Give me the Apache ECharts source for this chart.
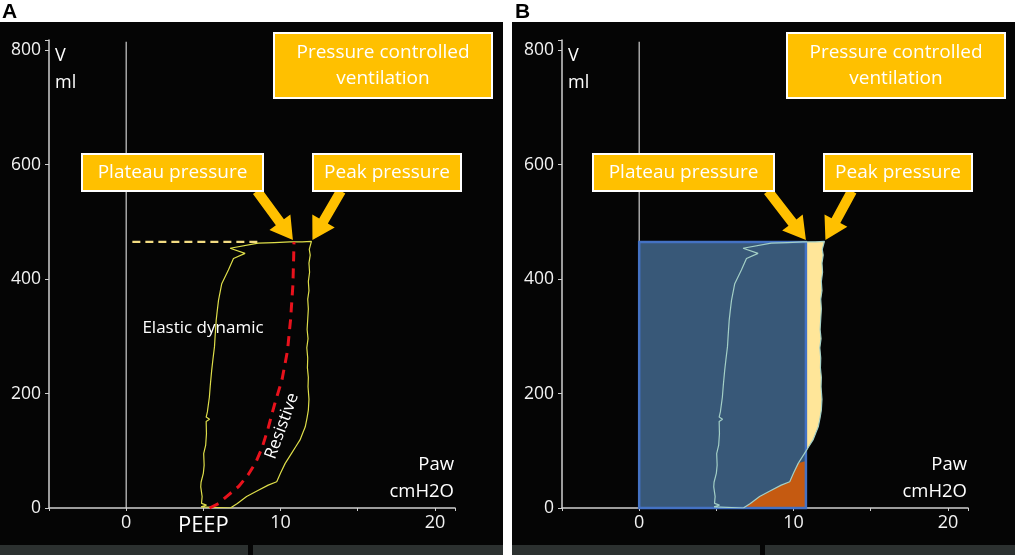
<!DOCTYPE html>
<html><head><meta charset="utf-8">
<script src="https://cdn.jsdelivr.net/npm/echarts@6/dist/echarts.min.js"></script>
<style>html,body{margin:0;padding:0;background:#fff}#c{width:1024px;height:555px}</style>
</head><body><div id="c"></div>
<script>
// ---- data ----
const yTicks = [0, 200, 400, 600, 800];
const xTickLabels = [0, 10, 20];
const xMin = -5, xMax = 21.3, yMax = 818;
const peepP = 5;
const plateauP = 10.8;
const peakP = 12.0;
const tidalV = 465;
const plateauDashStartP = 0.4;
const plateauDashEndP = 8.6;
const zeroLineTopV = 815;
const orangeTopV = 82;
const yellowBottomV = 98;

// inspiratory (right) limb of the P-V loop: [pressure, volume]
const inspLimb = [
  [6.75,0],[7.2,8],[7.8,20],[8.5,30],[9.2,40],[9.75,46],[10.0,61],[10.3,78],[10.7,95],[11.0,108],
  [11.26,119],[11.45,132],[11.6,142],[11.72,158],[11.8,171],[11.84,190],[11.78,212],[11.8,228],
  [11.74,245],[11.76,262],[11.7,280],[11.78,296],[11.72,312],[11.76,330],[11.8,348],[11.76,365],
  [11.84,380],[11.8,396],[11.88,412],[11.84,428],[11.92,442],[11.86,452],[11.92,458],[12.0,466]
];
// expiratory (left) limb, from peak back down to PEEP
const expLimb = [
  [11.4,465],[10.6,465],[9.6,464],[8.55,463],[6.73,454],[7.7,445],[6.95,436],[6.62,416],[6.19,392],
  [5.98,363],[5.9,345],[5.83,328],[5.76,300],[5.72,282],[5.62,260],[5.54,241],[5.45,215],[5.39,194],
  [5.26,168],[5.18,159],[5.4,155],[5.18,151],[5.2,130],[5.15,110],[5.02,95],[5.05,75],[5.0,61],
  [4.85,45],[4.83,37],[4.92,20],[4.88,8],[5.2,5],[4.85,2],[4.9,0]
];
// resistive (red dashed) curve
const resistiveLine = [
  [5.4,0],[6.0,8],[6.5,20],[7.3,38],[7.9,58],[8.4,80],[8.8,105],[9.2,140],[9.6,180],
  [10.1,225],[10.45,275],[10.65,330],[10.8,390],[10.85,440],[10.87,465]
];

// ---- derived shapes ----
const loop = [...inspLimb, ...expLimb, inspLimb[0]];
const rectPoly = [[0,0],[0,tidalV],[plateauP,tidalV],[plateauP,0]];
const orangePoly = [...inspLimb.filter(p => p[1] < orangeTopV), [plateauP, orangeTopV], [plateauP, 0]];
const yellowPoly = [[plateauP, yellowBottomV], ...inspLimb.filter(p => p[1] > yellowBottomV), [plateauP, tidalV]];

const FONT = '"Open Sans", "Noto Sans", sans-serif';
const AX = '#cfcfcf';

function xAx(i) {
  return {
    type: 'value', gridIndex: i, min: xMin, max: xMax, interval: 5, z: 1,
    axisLine: { onZero: false, lineStyle: { color: AX, width: 1.5 } },
    axisTick: { show: true, length: 3, lineStyle: { color: AX } },
    axisLabel: { color: '#f2f2f2', fontSize: 18, fontFamily: FONT, margin: 6,
      formatter: v => xTickLabels.includes(v) ? String(v) : '' },
    splitLine: { show: false }
  };
}
function yAx(i) {
  return {
    type: 'value', gridIndex: i, min: 0, max: yMax, interval: 200, z: 1,
    axisLine: { show: true, onZero: false, lineStyle: { color: AX, width: 1.5 } },
    axisTick: { show: true, length: 4, lineStyle: { color: AX } },
    axisLabel: { color: '#f2f2f2', fontSize: 17.5, fontFamily: FONT, margin: 8,
      formatter: v => yTicks.includes(v) ? String(v) : '' },
    splitLine: { show: false }
  };
}
function polySeries(idx, pts, style, z) {
  return {
    type: 'custom', xAxisIndex: idx, yAxisIndex: idx, z: z, silent: true,
    data: [[0, 0]], encode: { x: 0, y: 1 },
    renderItem: (params, api) => ({
      type: 'polygon',
      shape: { points: pts.map(p => api.coord(p)) },
      style: style
    })
  };
}
function lineSeries(idx, data, color, width, type, z, dash) {
  return {
    type: 'line', xAxisIndex: idx, yAxisIndex: idx, data: data, symbol: 'none', z: z,
    silent: true, animation: false,
    lineStyle: { color: color, width: width, type: dash ? dash : type }
  };
}

const chart = echarts.init(document.getElementById('c'), null, { renderer: 'canvas' });
chart.setOption({
  backgroundColor: '#ffffff',
  animation: false,
  grid: [
    { left: 49, top: 40, width: 406, bottom: 47 },
    { left: 562, top: 40, width: 406, bottom: 47 }
  ],
  xAxis: [xAx(0), xAx(1)],
  yAxis: [yAx(0), yAx(1)],
  series: [
    // panel A
    lineSeries(0, [[0,0],[0,zeroLineTopV]], AX, 1.2, 'solid', 2),
    lineSeries(0, [[plateauDashStartP,tidalV],[plateauDashEndP,tidalV]], '#f3dc82', 2.2, 'dashed', 3, [8, 5]),
    lineSeries(0, loop, '#dede4a', 1.2, 'solid', 4),
    lineSeries(0, resistiveLine, '#e8121c', 3, 'dashed', 5, [10, 7]),
    // panel B
    lineSeries(1, [[0,0],[0,zeroLineTopV]], AX, 1.2, 'solid', 2),
    polySeries(1, rectPoly, { fill: '#385878' }, 3),
    polySeries(1, orangePoly, { fill: '#c55a11' }, 4),
    polySeries(1, yellowPoly, { fill: '#ffe699' }, 4),
    polySeries(1, rectPoly, { fill: 'none', stroke: '#4472c4', lineWidth: 2.5 }, 5),
    lineSeries(1, loop, '#a3cfc6', 1.2, 'solid', 6)
  ]
});

// ---- annotations ----
function arrowPoly(s, t) {
  const dx = t[0] - s[0], dy = t[1] - s[1];
  const len = Math.sqrt(dx*dx + dy*dy);
  const ux = dx/len, uy = dy/len, nx = -uy, ny = ux;
  const L = 22, h = 13, w = 5;
  const b = [t[0] - ux*L, t[1] - uy*L];
  return [
    [s[0]+nx*w, s[1]+ny*w], [b[0]+nx*w, b[1]+ny*w], [b[0]+nx*h, b[1]+ny*h], t,
    [b[0]-nx*h, b[1]-ny*h], [b[0]-nx*w, b[1]-ny*w], [s[0]-nx*w, s[1]-ny*w]
  ];
}
function txt(x, y, text, size, align, opts) {
  return Object.assign({
    type: 'text', x: x, y: y, z: 100, silent: true,
    style: { text: text, fill: '#ffffff', font: size + 'px ' + FONT, textAlign: align || 'center', textVerticalAlign: 'middle' }
  }, opts || {});
}
function box(x, y, w, h, lines) {
  const els = [{ type: 'rect', z: 100, silent: true, shape: { x: x, y: y, width: w, height: h },
    style: { fill: '#ffc000', stroke: '#ffffff', lineWidth: 2 } }];
  const lh = 26;
  const y0 = y + h/2 - (lines.length - 1) * lh / 2;
  lines.forEach((l, i) => els.push(txt(x + w/2, y0 + i*lh, l, 19, 'center')));
  return els;
}

const g = [];
// panel backgrounds
[0, 512].forEach(ox => {
  g.push({ type: 'rect', z: -10, silent: true, shape: { x: ox, y: 22, width: 503, height: 533 }, style: { fill: '#050505' } });
  g.push({ type: 'rect', z: -9, silent: true, shape: { x: ox, y: 545, width: 248, height: 10 }, style: { fill: '#2c3130' } });
  g.push({ type: 'rect', z: -9, silent: true, shape: { x: ox + 253, y: 545, width: 250, height: 10 }, style: { fill: '#2c3130' } });
});
g.push({ type: 'text', x: 2, y: 12, z: 100, style: { text: 'A', fill: '#000', font: 'bold 21px "Liberation Sans", Arial, sans-serif', textAlign: 'left', textVerticalAlign: 'middle' } });
g.push({ type: 'text', x: 515, y: 12, z: 100, style: { text: 'B', fill: '#000', font: 'bold 21px "Liberation Sans", Arial, sans-serif', textAlign: 'left', textVerticalAlign: 'middle' } });

[[0, 0, 0], [1, 513, 511]].forEach(([idx, oxBig, ox]) => {
  const axOx = idx === 0 ? 0 : 513;
  g.push(txt(55 + axOx, 56, 'V', 18, 'left'));
  g.push(txt(55 + axOx, 83, 'ml', 18, 'left'));
  g.push(txt(454 + axOx, 465, 'Paw', 18.5, 'right'));
  g.push(txt(454 + axOx, 492, 'cmH2O', 18.5, 'right'));
  g.push(...box(274 + oxBig, 33, 218, 65, ['Pressure controlled', 'ventilation']));
  g.push(...box(82 + ox, 154, 181, 37, ['Plateau pressure']));
  g.push(...box(313 + ox, 154, 148, 37, ['Peak pressure']));
  const tipPl = chart.convertToPixel({ xAxisIndex: idx, yAxisIndex: idx }, [plateauP, tidalV]);
  const tipPk = chart.convertToPixel({ xAxisIndex: idx, yAxisIndex: idx }, [peakP, tidalV]);
  tipPl[1] -= 2; tipPk[1] -= 2; tipPk[0] += 1;
  g.push({ type: 'polygon', z: 99, silent: true, shape: { points: arrowPoly([257 + ox, 191], tipPl) }, style: { fill: '#ffc000' } });
  g.push({ type: 'polygon', z: 99, silent: true, shape: { points: arrowPoly([341 + ox, 191], tipPk) }, style: { fill: '#ffc000' } });
});
// panel A only labels
g.push(txt(203, 328, 'Elastic dynamic', 17, 'center'));
g.push(txt(282, 426, 'Resistive', 17, 'center', { rotation: 70 * Math.PI / 180 }));
const peepPx = chart.convertToPixel({ xAxisIndex: 0, yAxisIndex: 0 }, [peepP, 0]);
g.push(txt(peepPx[0], 526, 'PEEP', 22, 'center'));

chart.setOption({ graphic: { elements: g } });
</script></body></html>
